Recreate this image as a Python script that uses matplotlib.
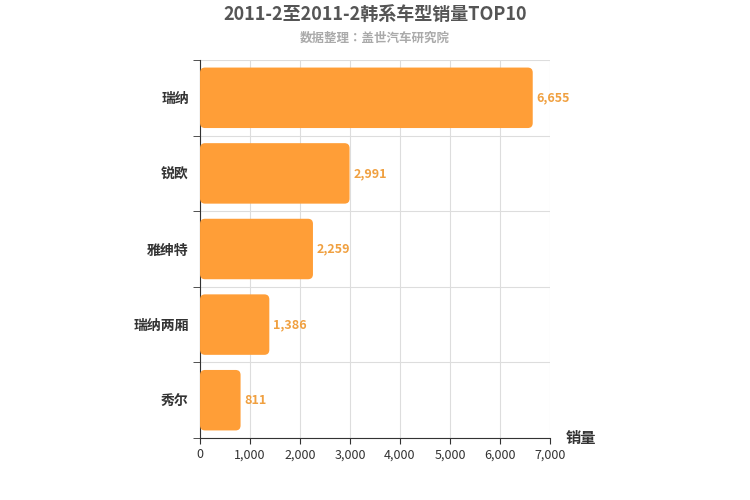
import matplotlib.pyplot as plt
from matplotlib import font_manager as fm
from matplotlib.patches import FancyBboxPatch

# pick whichever CJK family is actually registered
names = set(f.name for f in fm.fontManager.ttflist)
cjk = [n for n in ['Noto Sans CJK SC', 'Noto Sans CJK JP', 'Noto Sans CJK TC',
                   'Noto Sans CJK KR', 'Noto Sans SC'] if n in names]
if not cjk:
    for f in fm.findSystemFonts():
        if 'CJK' in f or 'cjk' in f:
            fm.fontManager.addfont(f)
    names = set(f.name for f in fm.fontManager.ttflist)
    cjk = [n for n in names if 'CJK' in n]
plt.rcParams['font.family'] = cjk + ['DejaVu Sans']

models = ['瑞纳', '锐欧', '雅绅特', '瑞纳两厢', '秀尔']
sales = [6655, 2991, 2259, 1386, 811]
ticks = [0, 1000, 2000, 3000, 4000, 5000, 6000, 7000]

fig = plt.figure(figsize=(7.5, 5), dpi=100)
ax = fig.add_axes([0.2667, 0.124, 0.4666, 0.756])
ax.set_xlim(0, 7000)
ax.set_ylim(-0.5, len(models) - 0.5)
ax.invert_yaxis()

# rounded corners: ~5px in both directions
xper = 7000 / 350.0
yper = 5 / 378.0
for i, v in enumerate(sales):
    h = 0.8
    p = FancyBboxPatch((0, i - h / 2), v, h,
                       boxstyle='round,pad=0,rounding_size=%f' % (5 * xper),
                       mutation_aspect=yper / xper,
                       fc='#ff9e37', ec='none', zorder=3)
    ax.add_patch(p)
    ax.text(v + 80, i, '{:,}'.format(v), va='center', ha='left',
            color='#f0a040', fontsize=9, fontweight='bold', zorder=4)

ax.set_yticks(range(len(models)))
ax.set_yticklabels(models, fontsize=10, fontweight='bold', color='#333333')
ax.set_yticks([i + 0.5 for i in range(-1, len(models))], minor=True)
ax.tick_params(axis='y', which='major', length=0, pad=8)
ax.tick_params(axis='y', which='minor', length=5, color='#333333')
ax.set_xticks(ticks)
ax.set_xticklabels(['{:,}'.format(t) for t in ticks], fontsize=9, color='#333333')
ax.tick_params(axis='x', length=4, color='#333333')
ax.grid(True, which='minor', axis='y', color='#dddddd', lw=0.8, zorder=0)
ax.grid(True, which='major', axis='x', color='#dddddd', lw=0.8, zorder=0)
for s in ['top', 'right']:
    ax.spines[s].set_visible(False)
ax.spines['left'].set_color('#333333')
ax.spines['bottom'].set_color('#333333')

fig.text(0.5, 0.972, '2011-2至2011-2韩系车型销量TOP10', ha='center', va='center',
         fontsize=13, fontweight='bold', color='#555555')
fig.text(0.5, 0.924, '数据整理：盖世汽车研究院', ha='center', va='center',
         fontsize=9, fontweight='bold', color='#aaaaaa')
fig.text(0.775, 0.124, '销量', ha='center', va='center', fontsize=11,
         fontweight='bold', color='#333333')

fig.savefig('out.png', dpi=100)
